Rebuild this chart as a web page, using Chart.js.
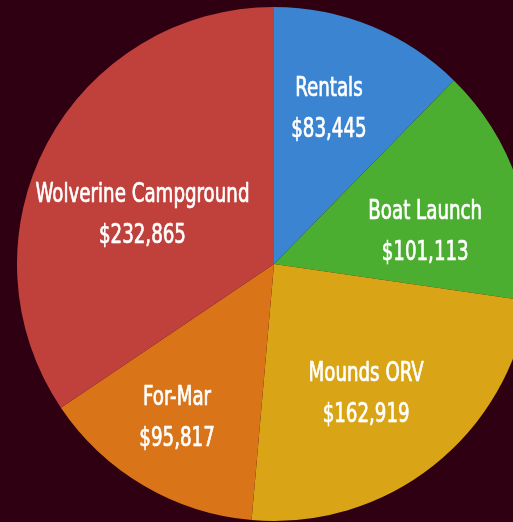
<!DOCTYPE html>
<html lang="en">
<head>
    <meta charset="UTF-8">
    <script src="https://cdn.jsdelivr.net/npm/chart.js"></script>
    <title>Revenue by Source</title>
    <style>
        html, body { margin: 0; padding: 0; background: #2e0011; overflow: hidden; }
        .container { position: absolute; left: 0; top: 0; width: 548px; height: 528px; }
    </style>
</head>
<body>
    <div class="container">
        <canvas id="myChart"></canvas>
    </div>
    <script>
        const labels = ['Rentals', 'Boat Launch', 'Mounds ORV', 'For-Mar', 'Wolverine Campground'];
        const revenue = [83445, 101113, 162919, 95817, 232865];
        const colors = ['#3a84d2', '#4bae31', '#d9a516', '#da7419', '#c0403c'];

        // label placement inside each slice: radius as share of the pie radius, angle nudge in degrees
        const labelRadius = [0.646, 0.603, 0.615, 0.70, 0.549];
        const labelNudge = [-2.9, 6, 2.7, 2.1, -6.8];

        function fmtMoney(v) {
            return '$' + v.toLocaleString('en-US');
        }

        // two-line labels in the middle of each slice, squeezed to look like a condensed face
        const sliceLabels = {
            id: 'sliceLabels',
            afterDatasetsDraw(chart) {
                const ctx = chart.ctx;
                const meta = chart.getDatasetMeta(0);
                const sx = 0.78;
                ctx.save();
                ctx.fillStyle = '#ffffff';
                ctx.strokeStyle = '#ffffff';
                ctx.lineWidth = 0.7;
                ctx.lineJoin = 'round';
                ctx.textAlign = 'center';
                ctx.textBaseline = 'alphabetic';
                ctx.font = '26px "DejaVu Sans Condensed", "DejaVu Sans", sans-serif';
                meta.data.forEach(function(arc, i) {
                    const mid = (arc.startAngle + arc.endAngle) / 2 + labelNudge[i] * Math.PI / 180;
                    const r = arc.outerRadius * labelRadius[i];
                    const x = arc.x + Math.cos(mid) * r;
                    const y = arc.y + Math.sin(mid) * r;
                    ctx.save();
                    ctx.translate(x, y);
                    ctx.scale(sx, 1);
                    [[labels[i], -11], [fmtMoney(revenue[i]), 30]].forEach(function(line) {
                        ctx.fillText(line[0], 0, line[1]);
                        ctx.strokeText(line[0], 0, line[1]);
                    });
                    ctx.restore();
                });
                ctx.restore();
            }
        };

        const ctx = document.getElementById('myChart');
        new Chart(ctx, {
            type: 'pie',
            data: {
                labels: labels,
                datasets: [{
                    data: revenue,
                    backgroundColor: colors,
                    borderWidth: 0
                }]
            },
            options: {
                responsive: true,
                maintainAspectRatio: false,
                animation: false,
                layout: { padding: 7 },
                plugins: {
                    legend: { display: false },
                    tooltip: { enabled: false }
                }
            },
            plugins: [sliceLabels]
        });
    </script>
</body>
</html>
